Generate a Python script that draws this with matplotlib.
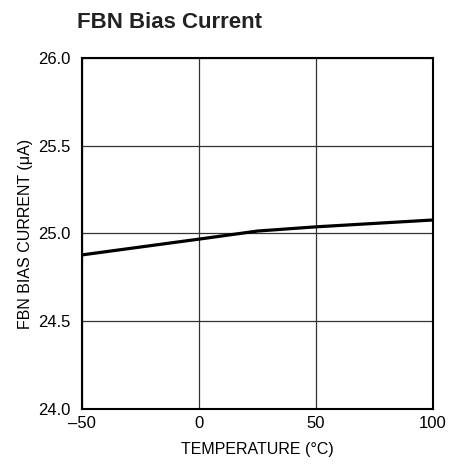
import matplotlib
matplotlib.use("Agg")
import matplotlib.pyplot as plt

temp_c = [-50, 0, 25, 50, 100]
bias_ua = [24.878, 24.968, 25.014, 25.038, 25.077]

x_ticks = [-50, 0, 50, 100]
x_labels = ["\u201350", "0", "50", "100"]
y_ticks = [24.0, 24.5, 25.0, 25.5, 26.0]

plt.rcParams['font.family'] = ['Liberation Sans Narrow', 'Liberation Sans', 'DejaVu Sans']

fig = plt.figure(figsize=(4.49, 4.65), dpi=100)
ax = fig.add_axes([0.1826, 0.1204, 0.7818, 0.7549])

ax.plot(temp_c, bias_ua, color='black', linewidth=2.3, solid_joinstyle='round')

ax.set_xlim(-50, 100)
ax.set_ylim(24, 26)
ax.set_xticks(x_ticks)
ax.set_xticklabels(x_labels)
ax.set_yticks(y_ticks)
ax.set_yticklabels(["%.1f" % v for v in y_ticks])
ax.tick_params(length=0, labelsize=12)
ax.tick_params(axis='y', pad=8)
ax.tick_params(axis='x', pad=5)
ax.grid(True, color='#333333', linewidth=0.9)
for s in ax.spines.values():
    s.set_linewidth(1.5)

ax.set_xlabel('TEMPERATURE (\u00b0C)', fontsize=11.5, labelpad=8)
ax.set_ylabel('FBN BIAS CURRENT (\u03bcA)', fontsize=11.5, labelpad=4)

fig.text(0.172, 0.952, 'FBN Bias Current', fontsize=16, fontweight='bold',
         ha='left', va='center', color='#222222')

fig.savefig('out.png', dpi=100)
